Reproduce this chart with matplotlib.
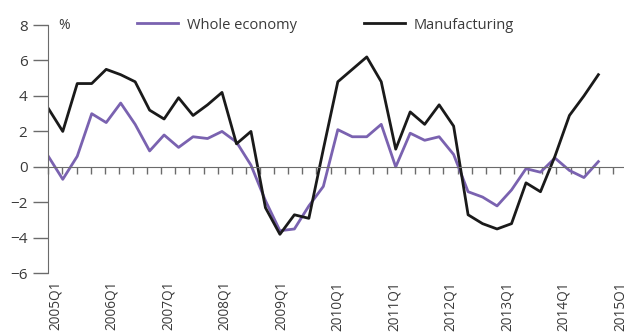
import numpy as np
import matplotlib
matplotlib.use("Agg")
import matplotlib.pyplot as plt

plt.rcParams['font.family'] = ['Open Sans', 'DejaVu Sans']

# annual growth, %, 2005Q1 .. 2014Q3
whole_economy = [0.6, -0.7, 0.6, 3.0, 2.5, 3.6, 2.4, 0.9, 1.8, 1.1,
                 1.7, 1.6, 2.0, 1.4, 0.1, -1.9, -3.6, -3.5, -2.2, -1.1,
                 2.1, 1.7, 1.7, 2.4, 0.0, 1.9, 1.5, 1.7, 0.7, -1.4,
                 -1.7, -2.2, -1.3, -0.1, -0.3, 0.5, -0.2, -0.6, 0.3]
manufacturing = [3.3, 2.0, 4.7, 4.7, 5.5, 5.2, 4.8, 3.2, 2.7, 3.9,
                 2.9, 3.5, 4.2, 1.3, 2.0, -2.3, -3.8, -2.7, -2.9, 1.0,
                 4.8, 5.5, 6.2, 4.8, 1.0, 3.1, 2.4, 3.5, 2.3, -2.7,
                 -3.2, -3.5, -3.2, -0.9, -1.4, 0.6, 2.9, 4.0, 5.2]
years = list(range(2005, 2016))
series_labels = ['Whole economy', 'Manufacturing']

purple = '#7a62b0'
grey = '#6b6b6b'
txt = '#3a3a3a'

fig = plt.figure(figsize=(6.24, 3.34), dpi=100)
ax = fig.add_axes([0.0774, 0.1817, 1 - 0.0774, 0.9251 - 0.1817])

x = np.arange(len(whole_economy))
ax.plot(x, whole_economy, color=purple, lw=2.0, label=series_labels[0])
ax.plot(x, manufacturing, color='#1a1a1a', lw=2.0, label=series_labels[1])

ax.set_ylim(-6, 8)
ax.set_xlim(0, 39.77)
ax.set_yticks(range(-6, 9, 2))
ax.tick_params(axis='y', length=11, width=1, color=grey, colors=txt,
               labelsize=11, pad=4)

# quarterly tick marks on the zero line, 41 of them up to 2015Q1
step = 39 / 40
ticks = np.arange(41) * step
for s in ['top', 'right']:
    ax.spines[s].set_visible(False)
ax.spines['left'].set_color(grey)
ax.spines['bottom'].set_position(('data', 0))
ax.spines['bottom'].set_color(grey)
ax.set_xticks(ticks)
ax.set_xticklabels([])
ax.tick_params(axis='x', direction='out', length=5.3, width=1, color=grey)

# year labels sit below the plot, centred in their first quarter
sec = ax.secondary_xaxis(0.0)
sec.spines['bottom'].set_visible(False)
sec.set_xticks([(4 * k + 0.5) * step for k in range(len(years))])
sec.set_xticklabels([f'{y}Q1' for y in years], rotation=90, va='top',
                    ha='center', color=txt, fontsize=9.8)
sec.tick_params(length=0, pad=5.5)

fig.text(0.102, 0.925, '%', fontsize=10, color=txt, ha='center', va='center')

ax.legend(loc='center left', bbox_to_anchor=(0.2196, 0.925),
          bbox_transform=fig.transFigure, ncol=2, frameon=False,
          borderpad=0, borderaxespad=0, handlelength=2.8,
          handletextpad=0.6, columnspacing=4.6, fontsize=10.5,
          labelcolor=txt)

fig.savefig('out.png', dpi=100)
